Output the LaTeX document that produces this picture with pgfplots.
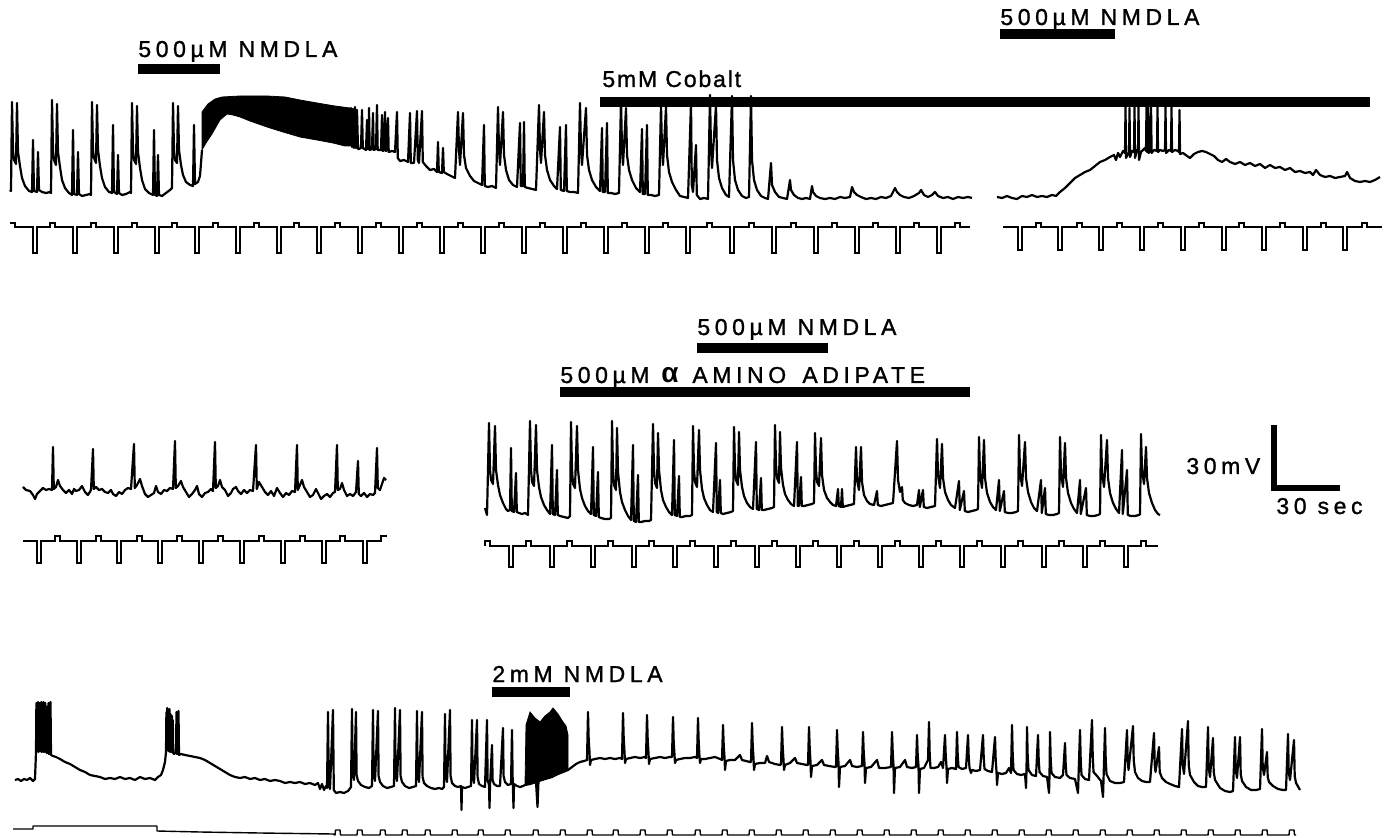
\documentclass[border=0pt]{standalone}
\usepackage{pgfplots}
\pgfplotsset{compat=1.18}
\usepackage{fontspec}
\setmainfont{Liberation Sans}
\newfontfamily\lab[LetterSpace=20, FakeBold=1.2]{Liberation Sans}
\newfontfamily\labn[LetterSpace=8, FakeBold=1.2]{Liberation Sans}
\begin{document}
\begin{tikzpicture}
\begin{axis}[scale only axis, width=695pt, height=419pt, xmin=0, xmax=1390, ymin=0, ymax=838, y dir=reverse, hide axis, clip=false]
\path (axis cs:0,0) rectangle (axis cs:1390,838);
% ---------------- Row 1, segment 1: membrane trace
\addplot[black, line width=1.1pt, line join=round] coordinates {
(10,190)(11,191)(12,102)(13,150)(14,160)(16,164)(17,103)(18,152)(20,166)(22,178)(25,186)(29,191)(32,192)(33,140)(34,191)(37,192)(38,152)(39,190)(42,192)(46,193)(50,192)(51,193)
(52,100)(53,150)(54,160)(56,165)(57,104)(58,152)(60,167)(62,180)(65,188)(69,193)(72,195)(73,130)(74,194)(77,195)(78,152)(79,194)(82,196)(86,195)(90,194)(91,195)
(92,102)(93,150)(94,158)(96,163)(97,105)(98,150)(100,166)(102,178)(105,187)(109,192)(112,193)(113,125)(114,192)(117,194)(118,155)(119,193)(122,195)(126,194)(130,192)(131,193)
(132,103)(133,150)(134,160)(136,164)(137,106)(138,152)(140,168)(142,180)(145,189)(149,193)(153,195)(154,130)(155,195)(157,196)(158,155)(159,195)(162,196)(166,193)(170,190)(172,188)
(173,103)(174,150)(175,160)(177,163)(178,106)(179,150)(181,165)(183,175)(186,182)(190,185)(193,186)(194,125)(195,184)(198,182)(200,176)(202,150)
};
\addplot[black, fill=black, line width=0.4pt] coordinates {
(202,150)(202,112)(208,104)(215,99)(222,97)(240,96)(267,96)(285,97)(300,100)(317,103)(335,106)(350,108)(350,146)(345,146)(333,143)(317,140)(300,137)(283,132)(267,127)(250,121)(240,117)(233,115)(227,114)(220,120)(212,134)(206,143)(202,150)
};
\addplot[black, line width=1.1pt, line join=round] coordinates {
(350,146)(351,108)(352,147)(353,109)(354,148)(355,107)(356,148)(357,110)(358,149)(359,149)(361,148)(362,110)(362.8,148)(366,150)(367,120)(367.7,149)(368.6,149)(369,108)(369.7,150)(372,149)(373,113)(373.7,150)(376,149)(377,105)(377.7,150)(381,150)(382,115)(382.7,151)(384,150)(385,112)(385.7,151)(387,150)(388,118)(388.7,152)(392,151)(395,152)(397,112)(397.8,158)(400,161)(404,160)(408,162)(410,113)(410.8,163)(414,163)(417,111)(417.8,160)(419,163)(422,111)(422.8,162)(426,166)(430,170)(434,169)(437,172)(438,142)(438.8,172)(442,173)(443,148)(443.8,172)(447,174)(451,176)(455,178)
(458,112)(459,150)(460,165)(463,113)(464,155)(466,168)(470,176)(474,181)(478,183)(482,185)(484,125)(484.8,186)(488,187)(492,186)(496,188)
(498,107)(499,150)(500,165)(503,112)(504,155)(506,170)(509,180)(513,185)(517,187)(520,123)(520.8,186)(523,186)(524,122)(524.8,187)(528,188)(532,189)(536,190)
(539,105)(540,150)(541,163)(544,112)(545,155)(547,170)(550,180)(554,186)(557,189)(560,127)(560.8,190)(564,191)(566,125)(566.8,191)(570,192)(574,192)(578,193)
(580,103)(581,150)(582,165)(586,108)(587,155)(589,170)(592,180)(596,187)(600,191)(602,128)(602.8,192)(605,192)(607,123)(607.8,193)(611,193)(615,194)(619,193)
(621,100)(622,150)(623,165)(626,108)(627,155)(629,170)(632,180)(636,188)(640,192)(642,129)(642.8,194)(645,194)(647,125)(647.8,195)(651,195)(655,196)(659,195)
(661,105)(662,150)(663,165)(666,107)(667,155)(669,172)(672,182)(676,190)(680,196)(684,197)(688,198)(691,103)(691.8,185)(693,192)(696,145)(696.8,195)(700,199)(704,198)(708,199)
(710,95)(711,150)(712,168)(716,105)(717,160)(719,178)(722,188)(726,195)(729,197)(732,96)(733,160)(735,180)(738,190)(742,196)(746,198)(749,197)(751,96)(752,160)(754,180)(757,190)(761,196)(765,198)(768,199)
(771,163)(772,185)(775,192)(779,197)(783,198)(787,199)(790,180)(791,190)(794,195)(798,198)(802,199)(806,198)(810,199)(812,186)(813,192)(816,196)(820,198)(825,199)(830,198)(835,199)(840,197)(845,198)(850,197)
(852,187)(854,192)(857,195)(861,197)(866,199)(871,198)(876,199)(881,197)(886,198)(891,196)(895,188)(897,192)(900,195)(904,197)(909,198)(914,196)(919,193)(921,190)(924,195)(928,197)(932,195)(935,192)(938,196)(943,198)(948,197)(953,199)(958,197)(963,198)(968,197)(972,198)
};
% Row 1 segment 1 command pulses
\addplot[black, line width=0.7pt] coordinates {
(10,223)(15,223)(15,227)(33,227)(33,253)(37,253)(37,227)
(50,227)(50,223)(55,223)(55,227)(73,227)(73,253)(77,253)(77,227)
(91,227)(91,223)(96,223)(96,227)(114,227)(114,253)(118,253)(118,227)
(132,227)(132,223)(137,223)(137,227)(155,227)(155,253)(159,253)(159,227)
(172,227)(172,223)(177,223)(177,227)(195,227)(195,253)(199,253)(199,227)
(213,227)(213,223)(218,223)(218,227)(236,227)(236,253)(240,253)(240,227)
(254,227)(254,223)(259,223)(259,227)(277,227)(277,253)(281,253)(281,227)
(294,227)(294,223)(299,223)(299,227)(317,227)(317,253)(321,253)(321,227)
(335,227)(335,223)(340,223)(340,227)(358,227)(358,253)(362,253)(362,227)
(376,227)(376,223)(381,223)(381,227)(399,227)(399,253)(403,253)(403,227)
(417,227)(417,223)(422,223)(422,227)(440,227)(440,253)(444,253)(444,227)
(458,227)(458,223)(463,223)(463,227)(481,227)(481,253)(485,253)(485,227)
(499,227)(499,223)(504,223)(504,227)(522,227)(522,253)(526,253)(526,227)
(540,227)(540,223)(545,223)(545,227)(563,227)(563,253)(567,253)(567,227)
(581,227)(581,223)(586,223)(586,227)(604,227)(604,253)(608,253)(608,227)
(622,227)(622,223)(627,223)(627,227)(645,227)(645,253)(649,253)(649,227)
(663,227)(663,223)(668,223)(668,227)(686,227)(686,253)(690,253)(690,227)
(707,227)(707,223)(712,223)(712,227)(730,227)(730,253)(734,253)(734,227)
(749,227)(749,223)(754,223)(754,227)(772,227)(772,253)(776,253)(776,227)
(791,227)(791,223)(796,223)(796,227)(814,227)(814,253)(818,253)(818,227)
(832,227)(832,223)(837,223)(837,227)(855,227)(855,253)(859,253)(859,227)
(873,227)(873,223)(878,223)(878,227)(896,227)(896,253)(900,253)(900,227)
(914,227)(914,223)(919,223)(919,227)(937,227)(937,253)(941,253)(941,227)
(955,227)(955,223)(960,223)(960,227)(970,227)
};
% ---------------- Row 1, segment 2
\addplot[black, line width=1.1pt, line join=round] coordinates {
(997,197)(1002,198)(1007,196)(1012,198)(1017,199)(1022,196)(1027,197)(1032,195)(1037,197)(1042,196)(1047,197)(1052,195)(1056,196)(1060,192)(1065,188)(1070,183)(1075,178)(1080,175)(1085,172)(1090,170)(1095,166)(1100,162)(1105,160)(1110,157)(1114,155)(1116,160)(1118,153)(1120,157)(1123,151)(1125,153)(1125.5,106)(1126,158)(1129,152)(1129.5,108)(1130,157)(1132,151)(1134,152)(1134.5,106)(1135,158)(1137,150)(1138,151)(1138.5,106)(1139,160)(1141,152)(1143,150)(1145,148)(1146,151)(1146.5,105)(1147,152)(1148,106)(1148.6,153)(1150,151)(1151,105)(1151.6,153)(1154,150)(1157,151)(1157.5,106)(1158,152)(1160,150)(1163,151)(1165,150)(1165.5,106)(1166,153)(1169,150)(1171,151)(1171.5,106)(1172,152)(1175,150)(1178,151)(1179,152)(1179.5,110)(1180,154)(1183,153)(1187,156)(1190,158)(1194,154)(1198,152)(1202,151)(1206,152)(1210,154)(1214,156)(1218,160)(1222,162)(1226,159)(1230,162)(1235,164)(1240,162)(1245,165)(1250,163)(1255,166)(1260,164)(1265,168)(1270,165)(1275,168)(1280,167)(1285,170)(1290,168)(1295,172)(1300,171)(1305,173)(1310,172)(1313,175)(1316,170)(1320,175)(1325,177)(1330,176)(1335,178)(1340,177)(1345,176)(1347,172)(1350,178)(1355,181)(1360,182)(1365,181)(1370,182)(1375,180)(1380,177)
};
\addplot[black, line width=0.7pt] coordinates {
(1003,227)(1018,227)(1018,250)(1022,250)(1022,227)(1036,227)(1036,223)(1041,223)(1041,227)(1058,227)(1058,250)(1062,250)(1062,227)(1077,227)(1077,223)(1082,223)(1082,227)(1099,227)(1099,250)(1103,250)(1103,227)(1117,227)(1117,223)(1122,223)(1122,227)(1140,227)(1140,250)(1144,250)(1144,227)(1158,227)(1158,223)(1163,223)(1163,227)(1181,227)(1181,250)(1185,250)(1185,227)(1199,227)(1199,223)(1204,223)(1204,227)(1222,227)(1222,250)(1226,250)(1226,227)(1239,227)(1239,223)(1244,223)(1244,227)(1262,227)(1262,250)(1266,250)(1266,227)(1280,227)(1280,223)(1285,223)(1285,227)(1303,227)(1303,250)(1307,250)(1307,227)(1321,227)(1321,223)(1326,223)(1326,227)(1343,227)(1343,250)(1347,250)(1347,227)(1362,227)(1362,223)(1367,223)(1367,227)(1382,227)
};
% ---------------- Row 2, left
\addplot[black, line width=1.1pt, line join=round] coordinates {
(23,487)(26,490)(30,491)(33,495)(35,499)(37,494)(40,491)(43,488)(46,490)(49,489)(52,490)(53,447)(53.8,489)(56,487)(58,480)(60,486)(63,490)(66,493)(69,490)(72,494)(74,489)(76,491)(79,490)(82,486)(85,492)(88,495)(91,490)(93,449)(93.8,489)(96,487)(99,490)(102,489)(105,492)(108,493)(111,490)(113,494)(116,496)(119,492)(122,494)(125,490)(128,488)(131,489)(134,444)(134.8,488)(137,485)(140,479)(142,486)(145,494)(148,497)(151,495)(154,493)(156,486)(158,492)(161,494)(164,490)(167,491)(170,488)(173,489)(175,441)(175.8,488)(178,486)(181,481)(183,487)(186,492)(189,497)(192,494)(195,490)(197,486)(199,494)(202,497)(205,493)(208,492)(211,489)(213,491)(215,442)(215.8,488)(218,486)(220,480)(222,487)(225,490)(228,496)(231,493)(233,489)(236,487)(238,491)(241,494)(244,490)(247,493)(250,490)(253,491)(256,445)(256.8,489)(259,482)(262,487)(265,492)(268,495)(271,491)(274,496)(277,488)(280,493)(283,497)(286,493)(289,495)(292,491)(295,492)(297,445)(297.8,490)(300,485)(302,480)(304,487)(307,492)(310,497)(313,495)(316,489)(318,493)(321,499)(324,496)(327,494)(330,497)(333,493)(335,492)(337,445)(337.8,490)(340,489)(342,483)(344,490)(347,496)(350,494)(353,496)(356,492)(358,461)(358.8,494)(361,496)(364,493)(367,497)(370,494)(373,495)(375,493)(377,448)(377.8,488)(380,490)(382,484)(384,478)(386,480)
};
\addplot[black, line width=0.7pt] coordinates {
(23,541)(37,541)(37,563)(41,563)(41,541)(55,541)(55,536)(60,536)(60,541)(77,541)(77,563)(81,563)(81,541)(96,541)(96,536)(101,536)(101,541)(117,541)(117,563)(121,563)(121,541)(137,541)(137,536)(142,536)(142,541)(158,541)(158,563)(162,563)(162,541)(177,541)(177,536)(182,536)(182,541)(199,541)(199,563)(203,563)(203,541)(218,541)(218,536)(223,536)(223,541)(240,541)(240,563)(244,563)(244,541)(259,541)(259,536)(264,536)(264,541)(281,541)(281,563)(285,563)(285,541)(300,541)(300,536)(305,536)(305,541)(322,541)(322,563)(326,563)(326,541)(340,541)(340,536)(345,536)(345,541)(363,541)(363,563)(367,563)(367,541)(381,541)(381,536)(387,536)
};
% ---------------- Row 2, middle
\addplot[black, line width=1.1pt, line join=round] coordinates {
(485,508)(487,515)(489,423)(490,470)(491,480)(493,484)(495,426)(496,470)(498,485)(500,495)(503,503)(506,509)(508,511)(510,510)(511,448)(511.8,511)(514,512)(516,473)(516.8,512)(519,513)(522,514)(525,513)(528,515)
(530,421)(531,470)(532,482)(534,486)(536,425)(537,470)(539,487)(541,497)(544,505)(547,510)(550,514)(552,445)(552.8,514)(555,515)(557,470)(557.8,515)(560,516)(564,517)(568,518)(570,516)
(571,422)(572,470)(573,484)(575,488)(577,426)(578,470)(580,489)(582,498)(585,506)(588,511)(591,514)(593,447)(593.8,515)(596,516)(598,472)(598.8,517)(601,518)(605,519)(609,519)(611,518)
(612,421)(613,470)(614,485)(616,490)(617,428)(618,472)(620,492)(622,502)(625,510)(628,516)(631,520)(633,445)(633.8,521)(636,522)(638,475)(638.8,522)(641,522)(645,521)(649,521)(651,520)
(653,424)(654,470)(655,483)(657,488)(658,433)(659,470)(661,490)(663,500)(666,507)(669,512)(672,515)(674,440)(674.8,515)(677,516)(679,476)(679.8,517)(682,517)(686,516)(690,516)(692,515)
(693,426)(694,470)(695,482)(697,487)(699,430)(700,470)(702,489)(704,498)(707,505)(710,510)(713,512)(716,443)(716.8,512)(718,513)(720,480)(720.8,513)(723,514)(727,513)(731,512)(733,511)
(734,427)(735,468)(736,480)(738,485)(739,432)(740,470)(742,487)(744,496)(747,503)(750,507)(753,509)(756,442)(756.8,509)(759,510)(761,478)(761.8,510)(764,510)(768,509)(772,508)(774,507)
(775,425)(776,465)(777,478)(779,483)(780,432)(781,468)(783,485)(785,494)(788,500)(791,504)(794,506)(797,442)(797.8,506)(799,506)(801,477)(801.8,506)(804,506)(808,505)(812,504)(814,503)
(815,433)(816,470)(817,482)(819,486)(821,438)(822,475)(824,490)(827,498)(830,502)(833,505)(836,506)(838,489)(838.8,506)(841,507)(842,489)(842.8,507)(846,506)(850,505)(854,504)
(856,447)(857,480)(859,490)(861,447)(862,482)(864,495)(867,501)(870,504)(874,505)(877,491)(877.8,505)(881,506)(885,505)(889,504)(893,503)
(897,441)(898,480)(900,492)(902,487)(902.8,500)(905,503)(909,505)(913,506)(917,505)(919,490)(919.8,507)(923,490)(923.8,507)(927,508)(931,507)(935,506)
(937,439)(938,475)(940,488)(942,444)(943,478)(945,492)(948,500)(951,505)(955,508)(959,481)(959.8,510)(964,491)(964.8,511)(968,512)(972,511)(976,510)(978,509)
(979,437)(980,475)(982,488)(984,440)(985,478)(987,493)(990,502)(993,507)(996,510)(999,480)(999.8,511)(1004,491)(1004.8,512)(1008,513)(1012,513)(1016,512)(1018,511)
(1019,435)(1020,472)(1022,486)(1025,442)(1026,478)(1028,492)(1031,502)(1034,508)(1037,511)(1041,480)(1041.8,513)(1045,488)(1045.8,514)(1049,515)(1053,515)(1057,514)(1059,513)
(1060,437)(1061,473)(1063,487)(1065,443)(1066,478)(1068,493)(1071,503)(1074,509)(1077,513)(1080,480)(1080.8,514)(1086,488)(1086.8,515)(1090,516)(1094,516)(1098,515)(1100,514)
(1101,435)(1102,472)(1104,487)(1107,440)(1108,478)(1110,493)(1113,503)(1116,509)(1119,513)(1122,450)(1122.8,514)(1127,470)(1127.8,515)(1131,516)(1135,516)(1139,515)(1140,514)
(1141,434)(1142,470)(1144,484)(1146,447)(1147,478)(1149,493)(1152,503)(1155,510)(1158,514)(1160,515)
};
\addplot[black, line width=0.7pt] coordinates {
(485,546)(485,541)(490,541)(490,546)(509,546)(509,567)(513,567)(513,546)
(526,546)(526,541)(531,541)(531,546)(550,546)(550,567)(554,567)(554,546)
(567,546)(567,541)(572,541)(572,546)(591,546)(591,567)(595,567)(595,546)
(608,546)(608,541)(613,541)(613,546)(632,546)(632,567)(636,567)(636,546)
(649,546)(649,541)(654,541)(654,546)(673,546)(673,567)(677,567)(677,546)
(690,546)(690,541)(695,541)(695,546)(714,546)(714,567)(718,567)(718,546)
(731,546)(731,541)(736,541)(736,546)(755,546)(755,567)(759,567)(759,546)
(772,546)(772,541)(777,541)(777,546)(796,546)(796,567)(800,567)(800,546)
(813,546)(813,541)(818,541)(818,546)(837,546)(837,567)(841,567)(841,546)
(854,546)(854,541)(859,541)(859,546)(878,546)(878,567)(882,567)(882,546)
(895,546)(895,541)(900,541)(900,546)(919,546)(919,567)(923,567)(923,546)
(936,546)(936,541)(941,541)(941,546)(960,546)(960,567)(964,567)(964,546)
(977,546)(977,541)(982,541)(982,546)(1001,546)(1001,567)(1005,567)(1005,546)
(1018,546)(1018,541)(1023,541)(1023,546)(1042,546)(1042,567)(1046,567)(1046,546)
(1059,546)(1059,541)(1064,541)(1064,546)(1083,546)(1083,567)(1087,567)(1087,546)
(1100,546)(1100,541)(1105,541)(1105,546)(1124,546)(1124,567)(1128,567)(1128,546)
(1141,546)(1141,541)(1146,541)(1146,546)(1158,546)
};
% ---------------- Row 3
\addplot[black, line width=1.1pt, line join=round] coordinates {
(15,780)(18,779)(21,781)(24,779)(27,780)(30,778)(33,781)(35,779)(36,752)(36.4,703)(36.8,751)(37.2,704)(37.6,750)(38,702)(38.4,752)(38.8,705)(39.2,749)(39.6,703)(40,751)(40.4,704)(40.8,750)(41.2,702)(41.6,752)(42,706)(42.4,751)(42.8,704)(43.2,752)(43.6,702)(44,750)(44.4,705)(44.8,752)(45.2,703)(45.6,751)(46,706)(46.4,752)(47,753)(48,752)(48.5,703)(49,754)(50,753)(50.5,702)(51,755)(53,756)(56,757)(60,759)(65,762)(70,764)(75,767)(80,770)(85,772)(90,775)(95,776)(100,777)(105,779)(110,778)(115,779)(120,777)(125,779)(130,778)(135,780)(140,777)(145,779)(150,778)(155,780)(158,777)(161,775)(163,770)(165,762)
(166,752)(166.4,712)(166.8,750)(167.2,708)(167.6,748)(168,710)(168.4,751)(168.8,712)(169.2,749)(169.6,709)(170,752)(170.4,714)(170.8,750)(171.2,718)(171.6,752)(172,716)(172.4,751)(172.8,720)(173.2,753)(174,754)(176,752)(176.5,712)(177,754)(178,753)(178.5,711)(179,755)(181,754)(185,755)(190,756)(195,757)(200,758)(205,760)(210,763)(215,766)(220,769)(225,772)(230,775)(235,777)(240,778)(245,777)(250,779)(255,778)(260,780)(265,779)(270,781)(275,780)(280,781)(285,783)(290,782)(295,783)(300,782)(305,784)(310,783)(315,785)(318,783)(320,789)(322,784)(324,790)(326,786)(327,788)(328,712)(328.8,785)(330,789)(333,710)(333.8,790)(336,793)(340,792)(344,793)(348,791)
(351,787)(352,709)(352.6,772)(354,780)(356,712)(356.6,775)(358,781)(361,785)(365,787)(369,788)(372,786)(373,710)(373.6,773)(375,781)(378,711)(378.6,776)(380,782)(383,786)(387,788)(391,787)(394,786)(395,708)(395.6,773)(397,781)(400,710)(400.6,776)(402,782)(405,786)(409,788)(413,787)(416,786)(417,711)(417.6,774)(419,782)(422,712)(422.6,777)(424,783)(427,786)(431,788)(435,789)(439,788)(442,789)(444,787)(445,714)(445.6,775)(447,782)(450,710)(450.6,776)(452,783)(455,786)(458,787)(461,786)(461.5,810)(462,787)(465,788)(468,787)(471,786)(472,720)(472.6,775)(474,783)(477,720)(477.6,777)(479,784)(482,786)(485,787)(487,720)(487.6,780)(489,785)(489.5,808)(490,786)(492,745)(492.6,780)(494,784)(497,786)(500,786)(503,728)(503.6,776)(505,782)(508,785)(511,784)(512,730)(512.6,776)(513.5,808)(514,784)(517,786)(520,787)(523,786)(525,785)
(530,784)(536,782)(537.5,807)(538.5,781)(545,779)(552,777)(558,774)(563,772)(568,770)(572,767)(576,764)(580,762)(584,761)(587,760)(588,712)(588.7,740)(589.5,752)(590,765)(591,760)(595,759)(600,758)(605,759)(610,758)(615,759)(620,758)(622,759)(623,713)(623.7,738)(624.5,752)(625,763)(626,759)(630,758)(635,757)(640,758)(645,757)(646,758)(647,715)(647.7,740)(648.5,753)(649,764)(650,759)(655,758)(660,757)(665,758)(670,757)(672,757)
(673,717)(673.7,742)(674.5,755)(675,763)(676,760)(680,759)(685,758)(690,758)(695,757)(697,758)(698,718)(698.7,742)(699.5,757)(700,763)(701,759)(705,759)(710,758)(715,757)(720,759)(722,760)(723,725)(723.7,745)(724.5,757)(725,770)(726,761)(730,760)(735,760)(740,755)(742,760)(746,761)(750,762)(751,762)(752,723)(752.7,745)(753.5,758)(754,770)(755,764)(760,763)(765,763)(767,756)(769,762)(775,764)(780,765)(781,764)(782,727)(782.7,747)(783.5,760)(784,770)(785,765)(790,763)(795,758)(797,763)(802,764)(807,765)(808,765)
(809,727)(809.7,748)(810.5,762)(811,777)(812,766)(817,765)(822,760)(824,765)(829,766)(835,767)(836,767)(837,730)(837.7,750)(838.5,763)(839,787)(840,767)(845,766)(850,760)(852,766)(857,767)(862,766)(863,732)(863.7,752)(864.5,764)(865,783)(866,768)(871,767)(877,760)(879,768)(885,768)(891,767)(892,732)(892.7,752)(893.5,766)(894,793)(895,768)(900,767)(905,760)(907,767)(912,768)(916,767)(917,735)(917.7,755)(918.5,766)(919,793)(920,769)(924,768)(928,760)(929,722)(929.7,755)(930.5,768)(934,768)(938,767)(941,762)(943,768)(945,735)(945.7,755)(946.5,767)(947,783)(948,769)(952,768)(956,769)(957,732)(957.7,755)(958.5,767)(962,769)(966,768)(968,735)(968.7,757)(969.5,768)(971,773)(972,770)(976,771)(980,770)(983,735)(983.7,757)(984.5,769)(988,771)(992,772)(995,737)(995.7,760)(996.5,772)(997,785)(998,773)
(1002,774)(1006,773)(1009,768)(1011,773)(1012,725)(1012.7,755)(1013.5,770)(1017,774)(1021,775)(1025,774)(1026,788)(1026.5,770)(1027,727)(1027.7,757)(1028.5,770)(1032,775)(1036,776)(1038,735)(1038.7,760)(1039.5,772)(1043,776)(1047,777)(1049,793)(1049.5,775)(1050,732)(1050.7,760)(1051.5,773)(1055,777)(1060,778)(1063,775)(1065,743)(1065.7,765)(1066.5,775)(1070,778)(1075,779)(1078,793)(1078.5,777)(1080,730)(1080.7,760)(1081.5,775)(1085,779)(1089,780)(1092,720)(1092.7,755)(1093.5,772)(1097,776)(1101,781)(1103,797)(1103.5,780)(1105,728)(1105.7,760)(1106.5,774)(1110,781)(1115,783)(1120,783)(1124,782)
(1127,730)(1127.7,760)(1128.5,770)(1133,726)(1133.7,760)(1135,772)(1138,778)(1142,781)(1146,782)(1150,782)(1154,733)(1154.7,765)(1155.5,772)(1159,747)(1159.7,772)(1162,778)(1166,782)(1170,784)(1175,786)(1179,787)(1182,729)(1182.7,765)(1184,774)(1188,721)(1188.7,765)(1190,775)(1194,782)(1198,786)(1202,787)(1206,787)(1208,727)(1208.7,768)(1210,777)(1213,738)(1213.7,772)(1215,780)(1220,788)(1225,791)(1230,792)(1233,791)(1235,737)(1235.7,770)(1237,778)(1240,737)(1240.7,774)(1242,781)(1246,787)(1251,790)(1256,790)(1260,789)(1262,729)(1262.7,767)(1264,775)(1267,752)(1267.7,777)(1269,782)(1273,786)(1278,789)(1283,790)(1286,790)(1288,734)(1288.7,772)(1290,780)(1294,740)(1294.7,776)(1296,783)(1300,790)
};
% 2 mM burst area
\addplot[black, fill=black, line width=0.4pt] coordinates {
(525,785)(526,725)(530,712)(535,718)(540,722)(545,716)(550,712)(553,708)(558,714)(563,722)(566,726)(568,735)(568,770)(563,772)(558,774)(552,777)(546,779)(540,781)(534,783)(529,784)(525,785)
};
\addplot[black, line width=0.7pt, line join=round] coordinates {
(13,829)(33,829)(33,826)(157,826)(157,831)(200,832)(260,833)(333,834)
(335,835)(335.5,830)(340,830)(340.5,835)(357,835)(357.5,830)(362,830)(362.5,835)(380,835)(380.5,830)(385,830)(385.5,835)(402,835)(402.5,830)(407,830)(407.5,835)(425,835)(425.5,830)(430,830)(430.5,835)(452,835)(452.5,830)(457,830)(457.5,835)(478,835)(478.5,830)(483,830)(483.5,835)(505,835)(505.5,830)(510,830)(510.5,835)(533,835)(533.5,830)(538,830)(538.5,835)(560,835)(560.5,830)(565,830)(565.5,835)(587,835)(587.5,830)(592,830)(592.5,835)(613,835)(613.5,830)(618,830)(618.5,835)(640,835)(640.5,830)(645,830)(645.5,835)(667,835)(667.5,830)(672,830)(672.5,835)
(695,835)(695.5,830)(700,830)(700.5,835)(722,835)(722.5,830)(727,830)(727.5,835)(749,835)(749.5,830)(754,830)(754.5,835)(776,835)(776.5,830)(781,830)(781.5,835)(803,835)(803.5,830)(808,830)(808.5,835)(830,835)(830.5,830)(835,830)(835.5,835)(857,835)(857.5,830)(862,830)(862.5,835)(884,835)(884.5,830)(889,830)(889.5,835)(911,835)(911.5,830)(916,830)(916.5,835)(938,835)(938.5,830)(943,830)(943.5,835)(965,835)(965.5,830)(970,830)(970.5,835)(992,835)(992.5,830)(997,830)(997.5,835)
(1019,835)(1019.5,830)(1024,830)(1024.5,835)(1046,835)(1046.5,830)(1051,830)(1051.5,835)(1073,835)(1073.5,830)(1078,830)(1078.5,835)(1100,835)(1100.5,830)(1105,830)(1105.5,835)(1127,835)(1127.5,830)(1132,830)(1132.5,835)(1154,835)(1154.5,830)(1159,830)(1159.5,835)(1181,835)(1181.5,830)(1186,830)(1186.5,835)(1208,835)(1208.5,830)(1213,830)(1213.5,835)(1235,835)(1235.5,830)(1240,830)(1240.5,835)(1262,835)(1262.5,830)(1267,830)(1267.5,835)(1289,835)(1289.5,830)(1294,830)(1294.5,835)(1296,835)
};
% ---------------- Drug bars
\addplot[black, line width=5pt] coordinates {(138,69)(220,69)};
\addplot[black, line width=5pt] coordinates {(600,102)(1370,102)};
\addplot[black, line width=5pt] coordinates {(1000,34)(1115,34)};
\addplot[black, line width=5pt] coordinates {(697,348)(828,348)};
\addplot[black, line width=5pt] coordinates {(560,392)(970,392)};
\addplot[black, line width=5pt] coordinates {(492,692)(570,692)};
% scale bar
\addplot[black, line width=2.6pt] coordinates {(1274,425)(1274,488)(1340,488)};
% ---------------- Labels
\tikzset{lbl/.style={anchor=base west, inner sep=0pt, font=\lab\fontsize{11.5}{13}\selectfont}}
\node[lbl] at (axis cs:138,57) {500µM NMDLA};
\node[lbl, font=\labn\fontsize{11.5}{13}\selectfont] at (axis cs:602,87) {5mM Cobalt};
\node[lbl] at (axis cs:1000,25) {500µM NMDLA};
\node[lbl] at (axis cs:697,335) {500µM NMDLA};
\node[lbl] at (axis cs:560,383) {500µM};
\node[lbl, font=\bfseries\fontsize{14}{16}\selectfont] at (axis cs:661,383) {α};
\node[lbl] at (axis cs:692,383) {AMINO};
\node[lbl] at (axis cs:802,383) {ADIPATE};
\node[lbl] at (axis cs:1186,474) {30mV};
\node[lbl] at (axis cs:1276,514) {30 sec};
\node[lbl] at (axis cs:492,682) {2mM NMDLA};
\end{axis}
\end{tikzpicture}
\end{document}
